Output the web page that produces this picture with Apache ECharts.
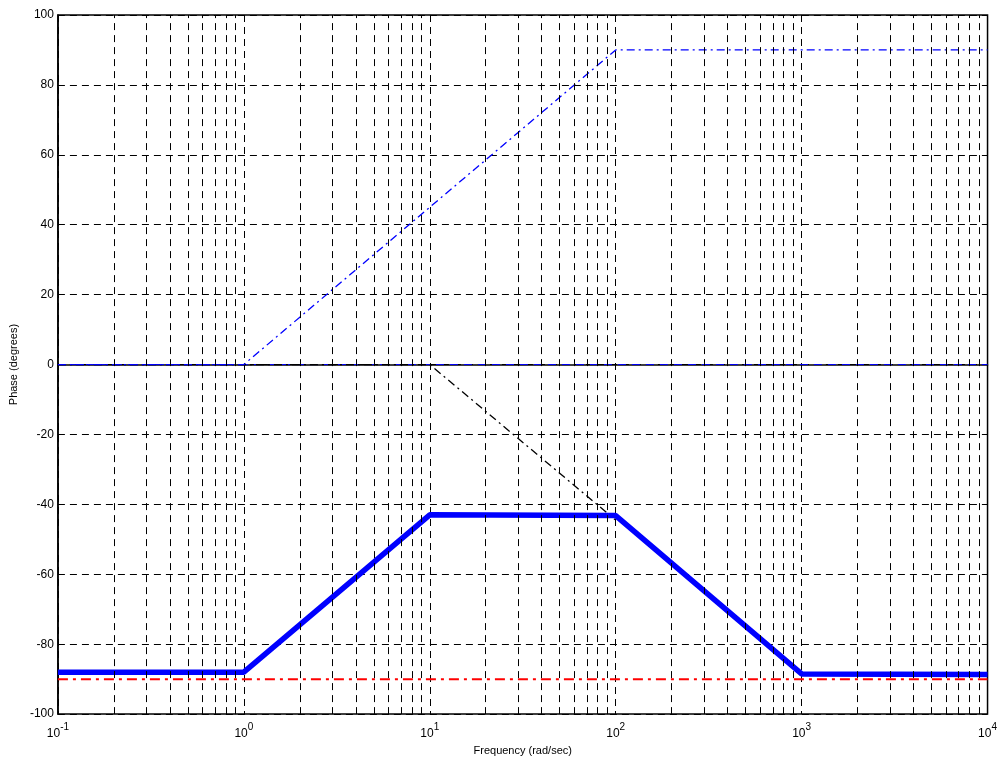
<!DOCTYPE html>
<html>
<head>
<meta charset="utf-8">
<script src="https://cdn.jsdelivr.net/npm/echarts@6/dist/echarts.min.js"></script>
<style>html,body{margin:0;padding:0;background:#fff;}#c{width:1000px;height:761px;}</style>
</head>
<body>
<div id="c"></div>
<script>
// Data (frequency in rad/sec, phase in degrees)
var zeroLineFreq = [0.1, 10000];
var zeroLinePhase = [0, 0];
var blueAsymFreq = [0.1, 1, 100, 10000];
var blueAsymPhase = [0, 0, 90, 90];
var blackAsymFreq = [0.1, 10, 100];
var blackAsymPhase = [0, 0, -44.5];
var redConstFreq = [0.1, 10000];
var redConstPhase = [-90, -90];
var totalFreq = [0.1, 1, 10, 100, 1000, 10000];
var totalPhase = [-88, -88, -43, -43.2, -88.5, -88.7];
var yTicks = [-100, -80, -60, -40, -20, 0, 20, 40, 60, 80, 100];
var decades = [-1, 0, 1, 2, 3];
var minorMults = [2, 3, 4, 5, 6, 7, 8, 9];

function pairs(xs, ys) { return xs.map(function (x, i) { return [x, ys[i]]; }); }

var minorLines = [];
decades.forEach(function (d) {
  minorMults.forEach(function (m) {
    minorLines.push({ xAxis: m * Math.pow(10, d) });
  });
});

var chart = echarts.init(document.getElementById('c'));
var font = 'Liberation Sans, Arial, sans-serif';
chart.setOption({
  animation: false,
  backgroundColor: '#fff',
  grid: { left: 57, right: 10, top: 15, bottom: 42, show: true, borderColor: '#000', borderWidth: 1.5, backgroundColor: 'transparent' },
  xAxis: {
    type: 'log', logBase: 10, min: 0.1, max: 10000,
    name: 'Frequency (rad/sec)', nameLocation: 'middle', nameGap: 28,
    nameTextStyle: { fontFamily: font, fontSize: 11, color: '#000' },
    axisLine: { lineStyle: { color: '#000', width: 1.5 } },
    axisTick: { show: false },
    splitLine: { show: true, lineStyle: { color: '#000', type: [7, 5], width: 1 } },
    axisLabel: {
      margin: 8, color: '#000',
      formatter: function (v) {
        var e = Math.round(Math.log10(v));
        return '{b|10}{s|' + e + '}';
      },
      rich: {
        b: { fontFamily: font, fontSize: 12, color: '#000', verticalAlign: 'bottom', padding: [6, 0, 0, 0] },
        s: { fontFamily: font, fontSize: 10, color: '#000', verticalAlign: 'top', padding: [0, 0, 6, 0] }
      }
    }
  },
  yAxis: {
    type: 'value', min: -100, max: 100, interval: 20,
    name: 'Phase (degrees)', nameLocation: 'middle', nameGap: 37, nameRotate: 90,
    nameTextStyle: { fontFamily: font, fontSize: 11, color: '#000' },
    axisLine: { show: true, lineStyle: { color: '#000', width: 1.5 } },
    axisTick: { show: false },
    splitLine: { show: true, lineStyle: { color: '#000', type: [7, 5], width: 1 } },
    axisLabel: { margin: 4, color: '#000', fontFamily: font, fontSize: 12 }
  },
  series: [
    {
      type: 'line', data: pairs(zeroLineFreq, zeroLinePhase), symbol: 'none', silent: true,
      lineStyle: { color: '#0000ff', width: 1, type: [8, 6] },
      markLine: {
        silent: true, symbol: 'none', animation: false, label: { show: false },
        lineStyle: { color: '#000', type: [7, 5], width: 1 },
        data: minorLines
      }
    },
    {
      type: 'line', data: pairs(blackAsymFreq, blackAsymPhase), symbol: 'none',
      lineStyle: { color: '#000', width: 1.3, type: [8, 4, 2, 4] }
    },
    {
      type: 'line', data: pairs(blueAsymFreq, blueAsymPhase), symbol: 'none',
      lineStyle: { color: '#0000ff', width: 1.3, type: [8, 4, 2, 4] }
    },
    {
      type: 'line', data: pairs(redConstFreq, redConstPhase), symbol: 'none',
      lineStyle: { color: '#ff0000', width: 2, type: [10, 5, 3, 5] }
    },
    {
      type: 'line', data: pairs(totalFreq, totalPhase), symbol: 'none',
      lineStyle: { color: '#0000ff', width: 5.5, type: 'solid' }
    }
  ]
});
</script>
</body>
</html>
